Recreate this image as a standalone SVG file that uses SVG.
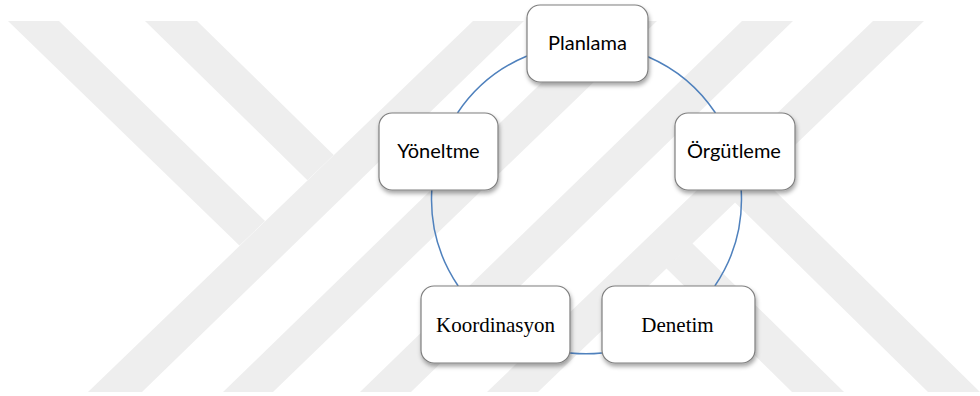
<svg xmlns="http://www.w3.org/2000/svg" width="980" height="396" viewBox="0 0 980 396">
<style>
.wm{fill:#eeeeee;stroke:none}
.box{fill:#ffffff;stroke:#7f7f7f;stroke-width:1.2;filter:url(#sh)}
.arc{fill:none;stroke:#4f81bd;stroke-width:1.5}
.sans{font-family:Lato,"Open Sans","Liberation Sans",sans-serif;font-size:20px;fill:#000;text-anchor:middle}
.serif{font-family:"Liberation Serif","Times New Roman",serif;font-size:21px;fill:#000;text-anchor:middle}
</style>
<defs>
<filter id="sh" x="-20%" y="-20%" width="140%" height="150%">
<feDropShadow dx="1" dy="3" stdDeviation="2" flood-color="#000" flood-opacity="0.35"/>
</filter>
</defs>
<rect x="0" y="0" width="980" height="396" fill="#ffffff"/>
<g id="watermark">
<polygon class="wm" points="8,21 59,21 265,221 239.4,245.6"/>
<polygon class="wm" points="145,21 197,21 333.7,155 307.4,180.2"/>
<polygon class="wm" points="473,21 524,21 142,392 88,392"/>
<polygon class="wm" points="605,21 657,21 273,392 223,392"/>
<polygon class="wm" points="742,21 793,21 411,392 360,392"/>
<polygon class="wm" points="873,21 924,21 538,392 487,392"/>
<polygon class="wm" points="666,268 692,243 844,392 792,392"/>
<polygon class="wm" points="734.5,202 760.7,177 980,392 928,392"/>
</g>
<g id="connectors">
<path class="arc" d="M527,56 A155,155 0 0 0 457.5,113"/>
<path class="arc" d="M431.8,190 A155,155 0 0 0 458.2,286"/>
<path class="arc" d="M570,353 A155,155 0 0 0 602,353"/>
<path class="arc" d="M714.8,286 A155,155 0 0 0 741.2,190"/>
<path class="arc" d="M715.5,113 A155,155 0 0 0 648,56.7"/>
</g>
<g id="planlama">
<rect class="box" x="527" y="5" width="121" height="77" rx="13"/>
<text class="sans" x="587.5" y="50">Planlama</text>
</g>
<g id="yoneltme">
<rect class="box" x="379" y="113" width="119" height="77" rx="13"/>
<text class="sans" x="438.5" y="158">Yöneltme</text>
</g>
<g id="orgutleme">
<rect class="box" x="675" y="113" width="120" height="77" rx="13"/>
<text class="sans" x="734" y="158">Örgütleme</text>
</g>
<g id="koordinasyon">
<rect class="box" x="421" y="286" width="149" height="77" rx="13"/>
<text class="serif" x="495.5" y="332">Koordinasyon</text>
</g>
<g id="denetim">
<rect class="box" x="602" y="286" width="153" height="77" rx="13"/>
<text class="serif" x="677.5" y="332">Denetim</text>
</g>
</svg>
